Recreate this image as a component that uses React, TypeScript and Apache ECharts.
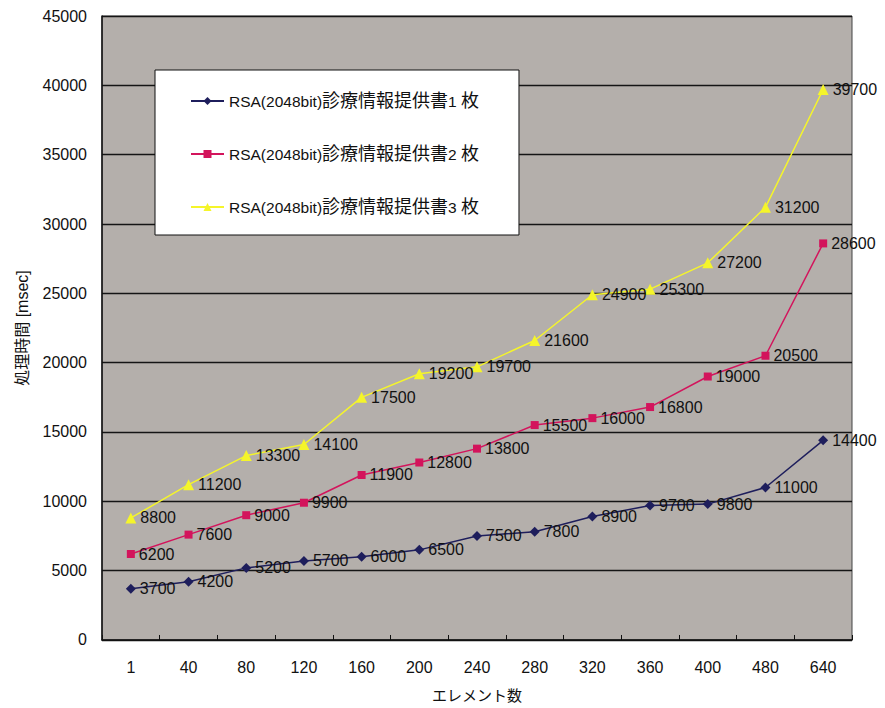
import React, { useEffect, useRef } from "react";
import * as echarts from "echarts";

const categories = ["1", "40", "80", "120", "160", "200", "240", "280", "320", "360", "400", "480", "640"];
const series1Name = "RSA(2048bit)診療情報提供書1 枚";
const series2Name = "RSA(2048bit)診療情報提供書2 枚";
const series3Name = "RSA(2048bit)診療情報提供書3 枚";
const series1 = [3700, 4200, 5200, 5700, 6000, 6500, 7500, 7800, 8900, 9700, 9800, 11000, 14400];
const series2 = [6200, 7600, 9000, 9900, 11900, 12800, 13800, 15500, 16000, 16800, 19000, 20500, 28600];
const series3 = [8800, 11200, 13300, 14100, 17500, 19200, 19700, 21600, 24900, 25300, 27200, 31200, 39700];
const yAxisName = "処理時間 [msec]";
const xAxisName = "エレメント数";

const FONT = "'Liberation Sans', 'Noto Sans CJK JP', sans-serif";

export default function App() {
  const ref = useRef<HTMLDivElement>(null);
  useEffect(() => {
    document.body.style.margin = "0";
    if (!ref.current) return;
    const chart = echarts.init(ref.current, null, { renderer: "svg" });
    const label = {
      show: true,
      position: "right" as const,
      distance: 4,
      color: "#111",
      fontSize: 16,
      fontFamily: FONT,
    };
    const mk = (name: string, data: number[], color: string, symbol: string, size: number) => ({
      name,
      type: "line",
      data,
      symbol,
      symbolSize: size,
      showAllSymbol: true,
      itemStyle: { color },
      lineStyle: { color, width: 1.5 },
      label,
    });
    chart.setOption({
      animation: false,
      backgroundColor: "#ffffff",
      textStyle: { fontFamily: FONT },
      grid: {
        left: 102,
        top: 16,
        right: 33,
        bottom: 65,
        show: true,
        backgroundColor: "#b4afab",
        borderColor: "#444",
        borderWidth: 1,
      },
      legend: {
        orient: "vertical",
        left: 155,
        top: 70,
        backgroundColor: "#ffffff",
        borderColor: "#111",
        borderWidth: 1,
        padding: [22, 40, 19, 35],
        itemGap: 35,
        itemWidth: 33,
        itemHeight: 10,
        formatter: (name: string) => name.replace(/([^\x00-\x7f]+)/g, "{j|$1}"),
        textStyle: {
          fontSize: 15.5,
          color: "#111",
          fontFamily: FONT,
          lineHeight: 18,
          rich: { j: { fontSize: 18, color: "#111", fontFamily: FONT, lineHeight: 18 } },
        },
        data: [series1Name, series2Name, series3Name],
      },
      xAxis: {
        type: "category",
        data: categories,
        boundaryGap: true,
        name: xAxisName,
        nameLocation: "middle",
        nameGap: 48,
        nameTextStyle: { fontSize: 15, color: "#111", fontFamily: FONT },
        axisLine: { lineStyle: { color: "#111", width: 1.5 } },
        axisTick: { show: true, inside: true, length: 5, alignWithLabel: false, lineStyle: { color: "#111" } },
        axisLabel: { fontSize: 16, color: "#111", margin: 19, fontFamily: FONT },
      },
      yAxis: {
        type: "value",
        min: 0,
        max: 45000,
        interval: 5000,
        name: yAxisName,
        nameLocation: "middle",
        nameGap: 72,
        nameRotate: 90,
        nameTextStyle: { fontSize: 16, color: "#111", fontFamily: FONT },
        axisLine: { show: true, lineStyle: { color: "#111", width: 1.5 } },
        axisTick: { show: false },
        axisLabel: { fontSize: 16, color: "#111", margin: 15, fontFamily: FONT, formatter: (v: number) => String(v) },
        splitLine: {
          show: true,
          lineStyle: { color: "#151515", width: 1.3 },
        },
      },
      series: [
        mk(series1Name, series1, "#1e1e5c", "diamond", 10),
        mk(series2Name, series2, "#d3145c", "rect", 8),
        mk(series3Name, series3, "#f5f52a", "triangle", 11),
      ],
    });
    return () => chart.dispose();
  }, []);
  return <div ref={ref} style={{ width: 885, height: 708 }} />;
}
